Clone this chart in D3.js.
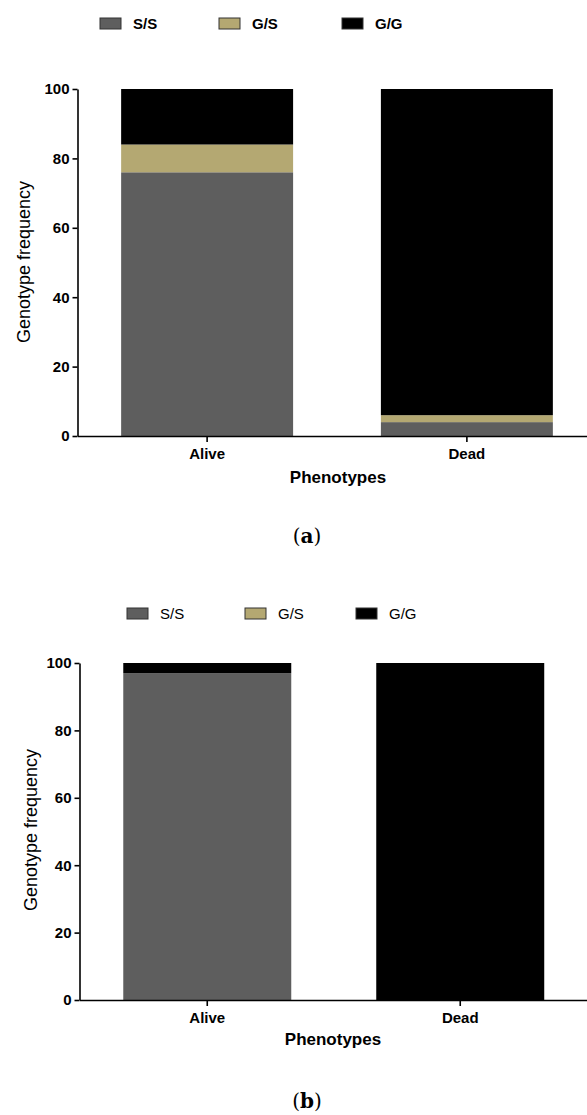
<!DOCTYPE html>
<meta charset="utf-8">
<style>
body { margin: 0; background: #fff; }
svg { display: block; }
.tick text { font-family: "Liberation Sans", Arial, sans-serif; font-weight: bold; font-size: 15px; fill: #000; }
.domain, .tick line { stroke: #000; stroke-width: 1.6px; }
</style>
<body>
<script src="https://d3js.org/d3.v7.min.js"></script>
<script>
// data
var phenotypes = ["Alive", "Dead"];
var genotypes = ["S/S", "G/S", "G/G"];
var colors = ["#5e5e5e", "#b4a872", "#000000"];
var yTicks = [0, 20, 40, 60, 80, 100];

// panel (a)
var aSS = [76, 4],
    aGS = [8, 2],
    aGG = [16, 94];
// panel (b)
var bSS = [97, 0],
    bGS = [0, 0],
    bGG = [3, 100];

var width = 587, height = 1115;

var svg = d3.select("body").append("svg")
    .attr("width", width)
    .attr("height", height);

function panel(opt) {
  var rows = phenotypes.map(function(p, i) {
    return { name: p, "S/S": opt.ss[i], "G/S": opt.gs[i], "G/G": opt.gg[i] };
  });
  var series = d3.stack().keys(genotypes)(rows);

  var x = d3.scaleBand()
      .domain(phenotypes)
      .range([opt.x0, opt.x1])
      .paddingInner(opt.padIn)
      .paddingOuter(opt.padOut);

  var y = d3.scaleLinear()
      .domain([0, 100])
      .range([opt.yBottom, opt.yTop]);

  var g = svg.append("g");

  // legend
  var leg = g.append("g").selectAll("g")
      .data(genotypes)
    .enter().append("g")
      .attr("transform", function(d, i) { return "translate(" + opt.legX[i] + "," + opt.legY + ")"; });
  leg.append("rect")
      .attr("x", 0).attr("y", -6)
      .attr("width", 21).attr("height", 11)
      .attr("fill", function(d, i) { return colors[i]; })
      .attr("stroke", "#333")
      .attr("stroke-width", 1);
  leg.append("text")
      .attr("x", 33).attr("dy", "0.36em")
      .style("font-family", "Liberation Sans, Arial, sans-serif")
      .style("font-size", "15px")
      .style("font-weight", opt.legBold ? "bold" : "normal")
      .text(function(d) { return d; });

  // bars
  g.append("g").selectAll("g")
      .data(series)
    .enter().append("g")
      .attr("fill", function(d, i) { return colors[i]; })
    .selectAll("rect")
      .data(function(d) { return d; })
    .enter().append("rect")
      .attr("x", function(d) { return x(d.data.name); })
      .attr("width", x.bandwidth())
      .attr("y", function(d) { return y(d[1]); })
      .attr("height", function(d) { return y(d[0]) - y(d[1]); });

  // axes
  g.append("g")
      .attr("transform", "translate(" + opt.x0 + ",0)")
      .call(d3.axisLeft(y).tickValues(yTicks).tickSize(5).tickPadding(3).tickSizeOuter(0));

  var xa = g.append("g")
      .attr("transform", "translate(0," + opt.yBottom + ")")
      .call(d3.axisBottom(x).tickSize(6).tickPadding(3).tickSizeOuter(0));
  xa.selectAll(".tick text").attr("dy", "0.95em");

  // axis titles
  g.append("text")
      .attr("transform", "translate(" + opt.yLabX + "," + opt.yLabY + ") rotate(-90)")
      .attr("text-anchor", "middle")
      .style("font-family", "Liberation Sans, Arial, sans-serif")
      .style("font-size", "18px")
      .text("Genotype frequency");

  g.append("text")
      .attr("x", opt.xLabX).attr("y", opt.xLabY)
      .attr("text-anchor", "middle")
      .style("font-family", "Liberation Sans, Arial, sans-serif")
      .style("font-weight", "bold")
      .style("font-size", "17px")
      .text("Phenotypes");

  // caption
  var cap = g.append("text")
      .attr("x", 307).attr("y", opt.capY)
      .attr("text-anchor", "middle")
      .style("font-family", "Palatino Linotype, DejaVu Serif, Liberation Serif, serif")
      .style("font-size", "20px");
  cap.append("tspan").text("(");
  cap.append("tspan").style("font-weight", "bold").text(opt.cap);
  cap.append("tspan").text(")");
}

panel({
  ss: aSS, gs: aGS, gg: aGG,
  x0: 77.5, x1: 596.5, padIn: 0.338, padOut: 0.168,
  yTop: 89, yBottom: 436,
  legX: [100, 219, 342], legY: 24, legBold: true,
  yLabX: 30, yLabY: 262,
  xLabX: 338, xLabY: 483,
  capY: 543, cap: "a"
});

panel({
  ss: bSS, gs: bGS, gg: bGG,
  x0: 79.5, x1: 588, padIn: 0.336, padOut: 0.173,
  yTop: 663, yBottom: 1000,
  legX: [127, 245, 356], legY: 614, legBold: false,
  yLabX: 37, yLabY: 830,
  xLabX: 333, xLabY: 1045,
  capY: 1108, cap: "b"
});
</script>
